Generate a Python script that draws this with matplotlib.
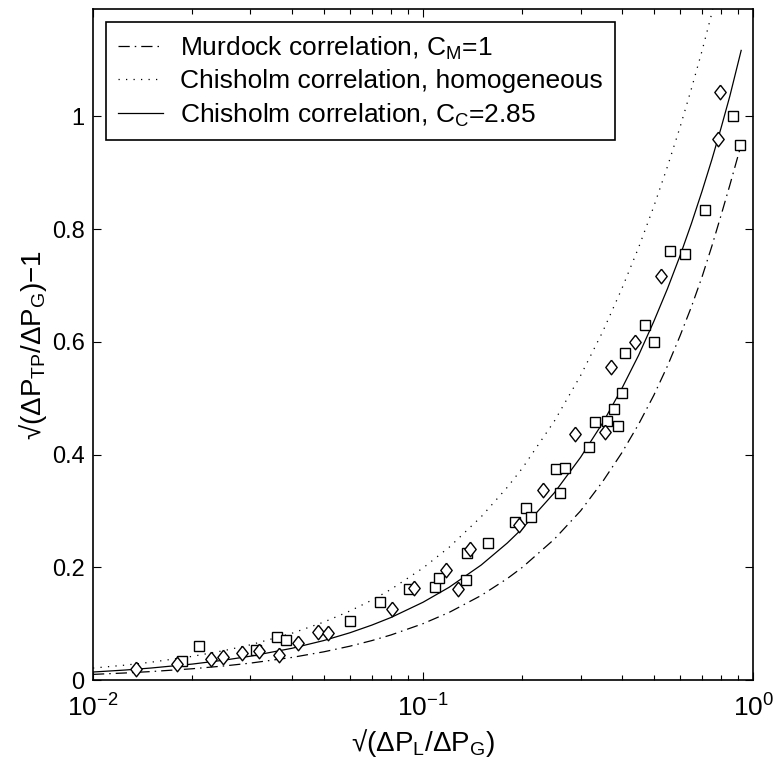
import numpy as np
import matplotlib
matplotlib.use('Agg')
import matplotlib.pyplot as plt

plt.rcParams['font.family'] = ['Liberation Sans', 'DejaVu Sans']
plt.rcParams['mathtext.default'] = 'regular'
plt.rcParams['font.size'] = 17

# correlation curves
x_curve = [0.01, 0.0125, 0.015, 0.02, 0.025, 0.03, 0.04, 0.05, 0.06, 0.07, 0.08, 0.1,
           0.12, 0.15, 0.18, 0.2, 0.25, 0.3, 0.35, 0.4, 0.45, 0.5, 0.55, 0.6, 0.65,
           0.7, 0.75, 0.8, 0.85, 0.92]
y_murdock = [0.010, 0.0125, 0.015, 0.020, 0.025, 0.030, 0.040, 0.050, 0.060, 0.070, 0.080, 0.100,
             0.120, 0.150, 0.180, 0.200, 0.250, 0.300, 0.352, 0.403, 0.454, 0.505, 0.557, 0.610, 0.662,
             0.715, 0.770, 0.825, 0.878, 0.950]
y_chis_cc = [0.0142, 0.0177, 0.0213, 0.0283, 0.0353, 0.0423, 0.0562, 0.0700, 0.0838, 0.0975, 0.111, 0.138,
             0.1646, 0.204, 0.2431, 0.269, 0.3323, 0.395, 0.456, 0.517, 0.5764, 0.636, 0.6941, 0.752, 0.8097,
             0.867, 0.9235, 0.980, 1.0359, 1.117]

x_homog = [0.01, 0.0125, 0.015, 0.02, 0.025, 0.03, 0.04, 0.05, 0.06, 0.07, 0.08, 0.1,
           0.12, 0.15, 0.18, 0.2, 0.25, 0.3, 0.35, 0.4, 0.45, 0.5, 0.55, 0.6, 0.65,
           0.7, 0.755]
y_homog = [0.0212, 0.0264, 0.0316, 0.0420, 0.0523, 0.0625, 0.0828, 0.1027, 0.1224, 0.1418, 0.161, 0.1988,
           0.2356, 0.2896, 0.342, 0.376, 0.4595, 0.540, 0.6177, 0.694, 0.7675, 0.840, 0.9108, 0.980, 1.0489,
           1.116, 1.19]

# measured points
sq_x = [0.0186, 0.0209, 0.0311, 0.0360, 0.0385, 0.0602, 0.0741, 0.0909, 0.109, 0.112,
        0.1353, 0.1362, 0.1574, 0.190, 0.205, 0.212, 0.2525, 0.2596, 0.270, 0.3185,
        0.332, 0.36, 0.38, 0.39, 0.40, 0.41, 0.47, 0.50, 0.560, 0.6235, 0.714, 0.870, 0.914]
sq_y = [0.0345, 0.0595, 0.0536, 0.076, 0.0714, 0.105, 0.139, 0.162, 0.165, 0.181,
        0.177, 0.226, 0.243, 0.280, 0.305, 0.290, 0.375, 0.332, 0.377, 0.414,
        0.457, 0.46, 0.48, 0.45, 0.51, 0.58, 0.63, 0.60, 0.761, 0.756, 0.833, 1.000, 0.950]

di_x = [0.01346, 0.018, 0.0228, 0.0248, 0.0282, 0.0319, 0.0366, 0.0418, 0.0482, 0.0516,
        0.0806, 0.0940, 0.117, 0.1274, 0.1388, 0.195, 0.2315, 0.2893, 0.355, 0.37,
        0.44, 0.525, 0.785, 0.794]
di_y = [0.019, 0.0286, 0.037, 0.0417, 0.0476, 0.052, 0.0446, 0.0655, 0.0845, 0.0833,
        0.126, 0.164, 0.195, 0.161, 0.233, 0.275, 0.338, 0.4357, 0.44, 0.555,
        0.60, 0.7166, 0.959, 1.043]

# matlab style diamond, a bit taller than wide
diamond = [(0, 1), (0.78, 0), (0, -1), (-0.78, 0), (0, 1)]

fig = plt.figure(figsize=(7.73, 7.71), dpi=100)
ax = fig.add_axes([0.1203, 0.118, 0.854, 0.870])

ax.plot(x_curve, y_murdock, color='k', lw=0.9, ls=(0, (9, 4, 1.2, 4)),
        label=r'Murdock correlation, C$_{M}$=1')
ax.plot(x_homog, y_homog, color='k', lw=0.9, ls=(0, (1, 5)),
        label='Chisholm correlation, homogeneous')
ax.plot(x_curve, y_chis_cc, color='k', lw=0.9, ls='-',
        label=r'Chisholm correlation, C$_{C}$=2.85')

ax.plot(sq_x, sq_y, 's', ms=7.3, mfc='white', mec='k', mew=1.0, ls='none')
ax.plot(di_x, di_y, marker=diamond, ms=10.5, mfc='white', mec='k', mew=1.0, ls='none')

ax.set_xscale('log')
ax.set_xlim(0.01, 1)
ax.set_ylim(0, 1.19)
ax.set_yticks([0, 0.2, 0.4, 0.6, 0.8, 1.0])
ax.set_yticklabels(['0', '0.2', '0.4', '0.6', '0.8', '1'])
ax.tick_params(which='both', direction='in', top=True, right=True, width=0.8)
ax.tick_params(which='major', length=6)
ax.tick_params(which='minor', length=3.5)
ax.tick_params(axis='x', which='major', pad=10, labelsize=19)
ax.tick_params(axis='y', pad=6)
for s in ax.spines.values():
    s.set_linewidth(1.2)

ax.set_xlabel(r'√(ΔP$_{L}$/ΔP$_{G}$)', fontsize=20, labelpad=4)
ax.set_ylabel(r'√(ΔP$_{TP}$/ΔP$_{G}$)−1', fontsize=20, labelpad=2)

leg = ax.legend(loc='upper left', bbox_to_anchor=(0, 1), borderaxespad=0.5,
                fancybox=False, edgecolor='k', framealpha=1, fontsize=19,
                handlelength=1.7, labelspacing=0.3, borderpad=0.45, handletextpad=0.65)
leg.get_frame().set_linewidth(1.2)

fig.savefig('out.png', dpi=100)
